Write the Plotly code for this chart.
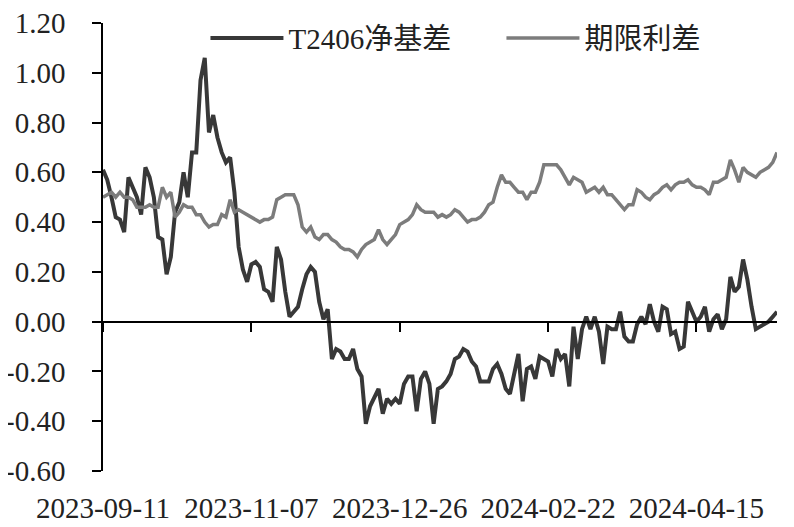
import pandas as pd
import plotly.graph_objects as go

# ---- categories: trading days starting 2023-09-11 (China bond market holidays removed)
holidays = ["2023-09-29", "2023-10-02", "2023-10-03", "2023-10-04", "2023-10-05", "2023-10-06",
            "2024-01-01", "2024-02-09", "2024-02-12", "2024-02-13", "2024-02-14", "2024-02-15",
            "2024-02-16", "2024-04-04", "2024-04-05", "2024-05-01", "2024-05-02", "2024-05-03"]
days = pd.bdate_range("2023-09-11", "2024-05-31")
days = [d.strftime("%Y-%m-%d") for d in days if d.strftime("%Y-%m-%d") not in holidays]

# ---- series values
net_basis = [
    0.61, 0.57, 0.50, 0.42, 0.41, 0.36, 0.58, 0.54, 0.50, 0.43,
    0.62, 0.58, 0.50, 0.34, 0.33, 0.19, 0.26, 0.44, 0.48, 0.60,
    0.50, 0.68, 0.68, 0.97, 1.06, 0.76, 0.83, 0.74, 0.68, 0.64,
    0.66, 0.52, 0.30, 0.21, 0.16, 0.23, 0.24, 0.22, 0.13, 0.12,
    0.08, 0.30, 0.25, 0.12, 0.02, 0.04, 0.06, 0.13, 0.19, 0.22,
    0.20, 0.08, 0.01, 0.05, -0.15, -0.11, -0.12, -0.15, -0.15, -0.11,
    -0.19, -0.22, -0.41, -0.34, -0.30, -0.27, -0.37, -0.31, -0.33, -0.31,
    -0.33, -0.25, -0.22, -0.22, -0.36, -0.23, -0.20, -0.25, -0.41, -0.27,
    -0.26, -0.24, -0.21, -0.15, -0.14, -0.11, -0.12, -0.16, -0.18, -0.24,
    -0.24, -0.24, -0.19, -0.17, -0.21, -0.27, -0.29, -0.21, -0.13, -0.32,
    -0.19, -0.18, -0.23, -0.14, -0.15, -0.16, -0.22, -0.11, -0.15, -0.13,
    -0.26, -0.02, -0.15, -0.03, 0.02, -0.03, 0.02, -0.04, -0.17, -0.02,
    -0.03, -0.03, 0.04, -0.06, -0.08, -0.08, -0.01, 0.02, -0.01, 0.07,
    0.00, -0.04, 0.06, 0.05, -0.05, -0.04, -0.11, -0.10, 0.08, 0.04,
    0.00, 0.02, 0.06, -0.04, 0.01, 0.03, -0.03, 0.01, 0.18, 0.12,
    0.14, 0.25, 0.17, 0.06, -0.03, -0.02, -0.01, 0.00, 0.02, 0.04,
]
term_spread = [
    0.50, 0.51, 0.52, 0.50, 0.52, 0.50, 0.50, 0.49, 0.46, 0.46,
    0.46, 0.47, 0.46, 0.46, 0.54, 0.50, 0.52, 0.42, 0.44, 0.47,
    0.46, 0.46, 0.43, 0.43, 0.40, 0.38, 0.39, 0.39, 0.43, 0.42,
    0.49, 0.44, 0.45, 0.44, 0.43, 0.42, 0.41, 0.40, 0.41, 0.41,
    0.42, 0.49, 0.50, 0.51, 0.51, 0.51, 0.47, 0.38, 0.36, 0.38,
    0.34, 0.33, 0.35, 0.35, 0.33, 0.32, 0.30, 0.29, 0.29, 0.28,
    0.26, 0.29, 0.31, 0.32, 0.33, 0.37, 0.33, 0.31, 0.33, 0.35,
    0.39, 0.40, 0.41, 0.43, 0.47, 0.45, 0.44, 0.44, 0.44, 0.42,
    0.43, 0.42, 0.43, 0.45, 0.44, 0.42, 0.40, 0.41, 0.41, 0.42,
    0.44, 0.47, 0.48, 0.54, 0.59, 0.56, 0.56, 0.54, 0.52, 0.52,
    0.49, 0.52, 0.52, 0.56, 0.63, 0.63, 0.63, 0.63, 0.61, 0.58,
    0.55, 0.58, 0.57, 0.56, 0.52, 0.53, 0.54, 0.52, 0.54, 0.51,
    0.51, 0.49, 0.47, 0.45, 0.47, 0.47, 0.53, 0.52, 0.50, 0.49,
    0.51, 0.52, 0.54, 0.55, 0.53, 0.55, 0.56, 0.56, 0.57, 0.55,
    0.54, 0.54, 0.53, 0.51, 0.56, 0.56, 0.57, 0.58, 0.65, 0.61,
    0.56, 0.62, 0.60, 0.59, 0.58, 0.60, 0.61, 0.62, 0.64, 0.68,
]
dates = days[:len(net_basis)]
tick_labels = ["2023-09-11", "2023-11-07", "2023-12-26", "2024-02-22", "2024-04-15"]
y_ticks = [-0.6, -0.4, -0.2, 0.0, 0.2, 0.4, 0.6, 0.8, 1.0, 1.2]
y_tick_text = ["%.2f" % v for v in y_ticks]
series_names = ["T2406净基差", "期限利差"]

SERIF = "Liberation Serif, Noto Sans CJK SC, serif"
TXT = "#222222"

fig = go.Figure()
fig.add_trace(go.Scatter(x=dates, y=net_basis, name=series_names[0], mode="lines",
                         line=dict(color="#383838", width=4)))
fig.add_trace(go.Scatter(x=dates, y=term_spread, name=series_names[1], mode="lines",
                         line=dict(color="#7c7c7c", width=3.5)))
# carrier for the bottom label axis
fig.add_trace(go.Scatter(x=dates, y=[None] * len(dates), xaxis="x2", showlegend=False,
                         hoverinfo="skip", mode="lines"))

n = len(dates)
# the page body adds an 8px offset, so the figure is 786x519
fig.update_layout(
    width=786, height=519,
    margin=dict(l=95, r=17, t=15, b=56, autoexpand=False),
    paper_bgcolor="white", plot_bgcolor="white",
    font=dict(family=SERIF, size=29, color=TXT),
    showlegend=True,
    legend=dict(orientation="h", x=0.152, xanchor="left", y=0.966, yanchor="middle",
                bgcolor="rgba(0,0,0,0)", itemwidth=73, entrywidth=208, entrywidthmode="pixels",
                font=dict(family=SERIF, size=29, color=TXT)),
    xaxis=dict(type="category", range=[0, n - 1], anchor="free", position=1 / 3,
               showline=True, linecolor="black", linewidth=2,
               ticks="outside", ticklen=9, tickwidth=2, tickcolor="black",
               tickvals=tick_labels, showticklabels=False, automargin=False,
               showgrid=False, zeroline=False),
    xaxis2=dict(type="category", range=[0, n - 1], overlaying="x", anchor="y", side="bottom",
                tickvals=tick_labels, ticktext=tick_labels, ticks="", showline=False,
                showgrid=False, zeroline=False, ticklabelstandoff=17, automargin=False,
                ticklabeloverflow="allow",
                tickfont=dict(family=SERIF, size=29, color=TXT)),
    yaxis=dict(range=[-0.6, 1.2], tickmode="array", tickvals=y_ticks, ticktext=y_tick_text,
               showline=True, linecolor="black", linewidth=1.5,
               ticks="outside", ticklen=9, tickwidth=1.5, tickcolor="black",
               showgrid=False, zeroline=False, ticklabelstandoff=21, automargin=False,
               ticklabeloverflow="allow",
               tickfont=dict(family=SERIF, size=29, color=TXT)),
)

fig.write_html("out.html")
